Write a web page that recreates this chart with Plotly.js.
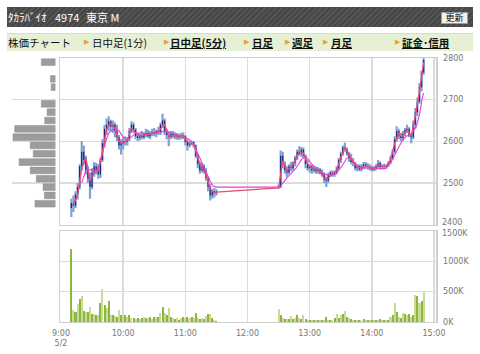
<!DOCTYPE html>
<html><head><meta charset="utf-8">
<script src="https://cdn.plot.ly/plotly-3.0.1.min.js"></script>
<style>
html,body{margin:0;padding:0;background:#fff;width:480px;height:354px;overflow:hidden}
#chart{position:absolute;left:0;top:0;width:480px;height:354px}
#hdr{position:absolute;left:7px;top:7px;width:466px;height:20px;background:repeating-linear-gradient(135deg,#464646 0 2px,#545454 2px 4px);z-index:5}
#hdr span{position:absolute;top:0;line-height:20px;color:#fff;font-family:"Noto Sans CJK JP",sans-serif;font-size:11px;white-space:nowrap}
#btn{position:absolute;left:441px;top:12px;width:25px;height:10px;background:#f2f2f2;border:1px solid #9a9a9a;z-index:6;font-family:"Noto Sans CJK JP",sans-serif;font-size:9px;line-height:10px;text-align:center;color:#000}
#nav{position:absolute;left:7px;top:33px;width:466px;height:17px;background:#e6f0d4;border-top:1px solid #d2e2bc;z-index:5}
#nav span{position:absolute;top:0;line-height:17px;font-family:"Noto Sans CJK JP",sans-serif;font-size:10.5px;color:#111;white-space:nowrap}
#nav span.lk{font-weight:bold;text-decoration:underline}
#nav span.tr{color:#f0a030;font-family:"DejaVu Sans",sans-serif;font-size:7px}
</style></head>
<body>
<div id="chart"></div>
<div id="hdr">
 <span style="left:1px">ﾀｶﾗﾊﾞｲｵ</span>
 <span style="left:48px">4974</span>
 <span style="left:79px">東京 M</span>
</div>
<div id="btn">更新</div>
<div id="nav">
 <span style="left:1px">株価チャート</span>
 <span class="tr" style="left:77px">▶</span><span style="left:85px">日中足(1分)</span>
 <span class="tr" style="left:157px">▶</span><span class="lk" style="left:163px">日中足(5分)</span>
 <span class="tr" style="left:237px">▶</span><span class="lk" style="left:245px">日足</span>
 <span class="tr" style="left:278px">▶</span><span class="lk" style="left:285px">週足</span>
 <span class="tr" style="left:316px">▶</span><span class="lk" style="left:324px">月足</span>
 <span class="tr" style="left:388px">▶</span><span class="lk" style="left:395px">証金･信用</span>
</div>
<script>
// ---------- data ----------
const day = '2013-05-02 ';
const amTimes = ["09:10","09:12","09:14","09:16","09:18","09:20","09:22","09:24","09:26","09:28","09:30","09:32","09:34","09:36","09:38","09:40","09:42","09:44","09:46","09:48","09:50","09:52","09:54","09:56","09:58","10:00","10:02","10:04","10:06","10:08","10:10","10:12","10:14","10:16","10:18","10:20","10:22","10:24","10:26","10:28","10:30","10:32","10:34","10:36","10:38","10:40","10:42","10:44","10:46","10:48","10:50","10:52","10:54","10:56","10:58","11:00","11:02","11:04","11:06","11:08","11:10","11:12","11:14","11:16","11:18","11:20","11:22","11:24","11:26","11:28","11:30"];
const pmTimes = ["12:30","12:32","12:34","12:36","12:38","12:40","12:42","12:44","12:46","12:48","12:50","12:52","12:54","12:56","12:58","13:00","13:02","13:04","13:06","13:08","13:10","13:12","13:14","13:16","13:18","13:20","13:22","13:24","13:26","13:28","13:30","13:32","13:34","13:36","13:38","13:40","13:42","13:44","13:46","13:48","13:50","13:52","13:54","13:56","13:58","14:00","14:02","14:04","14:06","14:08","14:10","14:12","14:14","14:16","14:18","14:20","14:22","14:24","14:26","14:28","14:30","14:32","14:34","14:36","14:38","14:40","14:42","14:44","14:46","14:48","14:50"];

const opens = [
 2440,2452,2445,2472,2490,2540,2575,2555,2530,2510,
 2490,2525,2540,2530,2520,2555,2595,2630,2640,2648,
 2635,2640,2625,2610,2590,2595,2600,2598,2605,2625,
 2640,2628,2612,2608,2615,2610,2618,2620,2612,2620,
 2622,2618,2625,2620,2640,2650,2622,2615,2610,2618,
 2612,2615,2610,2612,2614,2612,2598,2590,2596,2598,
 2590,2565,2545,2530,2540,2528,2512,2490,2470,2480,2475,
 2488,2490,2565,2545,2530,2525,2540,2535,2548,2560,
 2575,2570,2580,2565,2545,2535,2540,2530,2535,2528,
 2532,2525,2520,2508,2505,2520,2525,2520,2525,2535,
 2555,2570,2585,2580,2570,2560,2550,2548,2535,2540,
 2532,2540,2545,2540,2538,2535,2532,2535,2540,2548,
 2538,2540,2538,2542,2548,2560,2575,2605,2625,2612,
 2608,2618,2628,2630,2615,2610,2640,2670,2695,2730,2765];
const highs = [
 2462,2470,2480,2500,2545,2600,2590,2565,2540,2525,
 2535,2550,2548,2545,2560,2605,2640,2655,2660,2652,
 2650,2645,2640,2615,2605,2610,2612,2610,2632,2648,
 2645,2632,2620,2620,2625,2622,2630,2628,2625,2630,
 2632,2628,2635,2645,2666,2655,2630,2625,2625,2625,
 2622,2620,2618,2620,2622,2615,2605,2600,2602,2600,
 2592,2570,2550,2548,2545,2535,2515,2498,2485,2488,2485,
 2495,2578,2575,2552,2540,2545,2550,2552,2565,2580,
 2588,2586,2585,2568,2555,2545,2545,2542,2540,2538,
 2536,2532,2525,2515,2525,2530,2530,2530,2540,2560,
 2575,2590,2597,2585,2575,2570,2560,2550,2545,2545,
 2545,2550,2550,2548,2545,2542,2540,2545,2555,2552,
 2545,2546,2545,2552,2565,2580,2612,2636,2630,2620,
 2625,2632,2640,2634,2620,2650,2680,2705,2740,2770,2800];
const lows = [
 2418,2430,2440,2460,2485,2530,2545,2520,2500,2462,
 2485,2515,2520,2510,2512,2550,2585,2615,2625,2625,
 2620,2610,2600,2580,2568,2580,2590,2590,2600,2620,
 2620,2605,2600,2602,2605,2605,2610,2608,2605,2612,
 2612,2610,2615,2615,2632,2615,2605,2588,2605,2608,
 2605,2604,2603,2605,2606,2590,2578,2585,2590,2585,
 2560,2535,2522,2525,2522,2505,2480,2458,2462,2465,2470,
 2486,2488,2535,2522,2515,2520,2528,2530,2540,2555,
 2565,2562,2560,2535,2530,2525,2522,2525,2522,2522,
 2520,2515,2500,2490,2500,2515,2515,2515,2520,2530,
 2548,2565,2575,2565,2550,2545,2540,2530,2528,2528,
 2528,2532,2535,2532,2530,2528,2528,2530,2535,2532,
 2532,2532,2534,2538,2545,2555,2570,2598,2605,2600,
 2602,2612,2620,2610,2595,2605,2630,2660,2690,2720,2760];
const closes = [
 2452,2445,2472,2490,2540,2575,2555,2530,2510,2490,
 2525,2540,2530,2520,2555,2595,2630,2640,2648,2635,
 2640,2625,2610,2590,2595,2600,2598,2605,2625,2640,
 2628,2612,2608,2615,2610,2618,2620,2612,2620,2622,
 2618,2625,2620,2640,2650,2622,2615,2610,2618,2612,
 2615,2610,2612,2614,2612,2598,2590,2596,2598,2590,
 2565,2545,2530,2540,2528,2512,2490,2470,2480,2475,2480,
 2490,2565,2545,2530,2525,2540,2535,2548,2560,2575,
 2570,2580,2565,2545,2535,2540,2530,2535,2528,2532,
 2525,2520,2508,2505,2520,2525,2520,2525,2535,2555,
 2570,2585,2580,2570,2560,2550,2548,2535,2540,2532,
 2540,2545,2540,2538,2535,2532,2535,2540,2548,2538,
 2540,2538,2542,2548,2560,2575,2605,2625,2612,2608,
 2618,2628,2630,2615,2610,2640,2670,2695,2730,2765,2795];
// volume in thousands of shares
const volumes = [
 1200,190,170,300,380,430,180,170,160,240,
 140,130,120,110,320,540,280,230,350,120,
 110,100,90,190,110,100,110,90,120,70,
 60,50,70,50,60,80,60,70,80,50,
 90,80,90,150,240,150,120,227,80,60,
 50,60,40,60,80,60,80,70,80,60,
 150,70,50,60,50,100,135,130,60,40,20,
 220,110,60,50,45,50,95,50,60,110,
 60,50,120,50,40,35,30,30,25,30,
 35,30,40,90,35,30,30,60,135,70,
 110,135,180,75,60,45,40,35,40,35,
 40,50,35,25,25,30,25,25,30,50,
 30,25,30,40,90,110,313,160,80,70,
 150,135,120,135,80,110,443,421,313,350,497];

// short moving average (red)
const maShortTimes = ["09:12","09:16","09:20","09:24","09:28","09:32","09:36","09:40","09:44","09:48","09:52","09:56","10:00","10:04","10:08","10:12","10:16","10:20","10:24","10:28","10:32","10:36","10:40","10:44","10:48","10:52","10:56","11:00","11:04","11:08","11:12","11:16","11:20","11:24","11:28","11:30","12:30","12:34","12:38","12:42","12:46","12:50","12:54","12:58","13:02","13:06","13:10","13:14","13:18","13:22","13:26","13:30","13:34","13:38","13:42","13:46","13:50","13:54","13:58","14:02","14:06","14:10","14:14","14:18","14:22","14:26","14:30","14:34","14:38","14:42","14:46","14:50"];
const maShortVals = [2448,2470,2535,2560,2505,2525,2530,2575,2630,2642,2632,2600,2595,2602,2632,2620,2612,2615,2616,2620,2620,2630,2640,2612,2614,2612,2613,2605,2594,2594,2560,2535,2522,2485,2476,2478,2488,2552,2530,2538,2552,2575,2572,2545,2535,2532,2528,2512,2512,2522,2530,2562,2585,2568,2550,2538,2536,2542,2538,2534,2545,2540,2540,2555,2595,2620,2612,2628,2612,2660,2720,2790];
// long moving average (magenta)
const maLongTimes = ["09:20","09:24","09:30","09:34","09:38","09:42","09:46","09:52","09:56","10:00","10:04","10:08","10:12","10:18","10:24","10:30","10:36","10:40","10:46","10:52","10:58","11:04","11:09","11:14","11:19","11:24","11:27","11:30","12:30","12:33","12:38","12:43","12:47","12:52","12:56","13:00","13:05","13:10","13:16","13:21","13:26","13:31","13:36","13:39","13:44","13:48","13:55","14:01","14:08","14:14","14:19","14:24","14:29","14:33","14:38","14:43","14:46","14:49","14:50"];
const maLongVals = [2500,2530,2532,2528,2548,2592,2620,2632,2625,2610,2604,2610,2620,2620,2616,2620,2622,2625,2620,2615,2612,2604,2588,2560,2528,2504,2492,2490,2490,2496,2512,2524,2536,2556,2564,2552,2536,2528,2520,2518,2524,2540,2560,2560,2548,2536,2536,2536,2534,2536,2552,2576,2600,2612,2616,2636,2664,2708,2716];

// volume by price (left histogram)
const histPrices = [2790,2750,2730,2690,2670,2650,2630,2610,2590,2570,2550,2530,2510,2490,2470,2450];
const histVols = [1400,500,430,1400,830,1070,4030,4200,2500,2200,3600,2500,1900,1230,1100,2030];

const hourTicks = ["09:00","10:00","11:00","12:00","13:00","14:00","15:00"];
const hourLabels = ["9:00<br>5/2","10:00","11:00","12:00","13:00","14:00","15:00"];
const priceTicks = [2400,2500,2600,2700,2800];
const volTicks = [0,500,1000,1500];

// ---------- build ----------
const times = amTimes.concat(pmTimes).map(s => day + s);
const wickX=[], wickY=[], bodyX=[], bodyY=[];
times.forEach((t,i)=>{
  wickX.push(t,t,null); wickY.push(lows[i],highs[i],null);
  bodyX.push(t,t,null); bodyY.push(opens[i],closes[i],null);
});
const volColors = volumes.map((v,i)=> i%2 ? '#c7dc95' : '#8fb63c');

const gridC = '#dcdcdc', lineC = '#cfcfcf';
const tickFont = {family:'DejaVu Sans', size:8, color:'#777'};
const xRange = [day+'08:59:02', day+'15:01:56'];
const plotW = 436;

const traces = [
  {type:'bar', orientation:'h', x:histVols, y:histPrices, xaxis:'x3', yaxis:'y', width:16,
   marker:{color:'#9d9d9d', line:{color:'#8a8a8a', width:0.5}}},
  {type:'scatter', mode:'lines', x:wickX, y:wickY, xaxis:'x', yaxis:'y', line:{color:'#7ea2d6', width:2.2}},
  {type:'scatter', mode:'lines', x:bodyX, y:bodyY, xaxis:'x', yaxis:'y', line:{color:'#17257c', width:1.2}},
  {type:'scatter', mode:'lines', x:maLongTimes.map(s=>day+s), y:maLongVals, xaxis:'x', yaxis:'y', line:{color:'#e03ee6', width:1.1}},
  {type:'scatter', mode:'lines', x:maShortTimes.map(s=>day+s), y:maShortVals, xaxis:'x', yaxis:'y', line:{color:'#ee4a72', width:1.4}},
  {type:'bar', x:times, y:volumes, xaxis:'x2', yaxis:'y2', width:118000, marker:{color:volColors, line:{width:0}}}
];

// the two labels that sit where the panels meet are nudged apart
const annotations = [
  {xref:'paper', yref:'y', x:1, y:priceTicks[0], text:String(priceTicks[0]), showarrow:false,
   xanchor:'left', xshift:4, yanchor:'middle', yshift:2, font:tickFont},
  {xref:'paper', yref:'y2', x:1, y:volTicks[3], text:volTicks[3]+'K', showarrow:false,
   xanchor:'left', xshift:4, yanchor:'middle', yshift:-2.5, font:tickFont}
];

const layout = {
  width:480, height:354,
  margin:{l:0, r:480-plotW, t:58, b:32},
  paper_bgcolor:'#fff', plot_bgcolor:'#fff',
  showlegend:false, hovermode:false, bargap:0,
  annotations: annotations,
  xaxis:{type:'date', domain:[60/plotW,1], range:xRange, anchor:'y',
    tickvals:hourTicks.map(s=>day+s), showticklabels:false, ticks:'',
    showgrid:true, gridcolor:gridC, gridwidth:1.5, zeroline:false,
    showline:true, mirror:true, linecolor:lineC, linewidth:1},
  yaxis:{domain:[0.369,1], range:[2400,2800], anchor:'x', side:'right',
    tickvals:priceTicks, ticktext:priceTicks.map((v,i)=> i===0 ? '' : String(v)),
    ticks:'', tickfont:tickFont, ticklabelstandoff:4,
    showgrid:true, gridcolor:gridC, gridwidth:1.5, zeroline:false,
    showline:true, mirror:true, linecolor:lineC, linewidth:1.5},
  xaxis2:{type:'date', domain:[60/plotW,1], range:xRange, anchor:'y2',
    tickvals:hourTicks.map(s=>day+s), ticktext:hourLabels, ticks:'', tickfont:tickFont, ticklabelstandoff:3,
    showgrid:true, gridcolor:gridC, gridwidth:1.5, zeroline:false,
    showline:true, mirror:true, linecolor:lineC, linewidth:1},
  yaxis2:{domain:[0,0.345], range:[0,1500], anchor:'x2', side:'right',
    tickvals:volTicks, ticktext:volTicks.map((v,i)=> i===3 ? '' : v+'K'),
    ticks:'', tickfont:tickFont, ticklabelstandoff:4,
    showgrid:true, gridcolor:gridC, gridwidth:1.5, zeroline:false,
    showline:true, mirror:true, linecolor:lineC, linewidth:1.5},
  xaxis3:{domain:[12/plotW, 55.5/plotW], range:[4300,0], anchor:'y', visible:false, fixedrange:true}
};

Plotly.newPlot('chart', traces, layout, {displayModeBar:false, staticPlot:true});
</script>
</body></html>
